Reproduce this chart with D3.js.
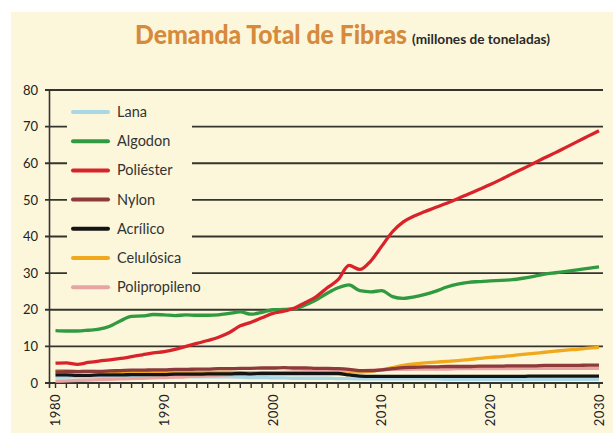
<!DOCTYPE html>
<html><head><meta charset="utf-8">
<script src="https://cdn.jsdelivr.net/npm/d3@7"></script>
<style>body{margin:0;background:#fff}svg{display:block}</style>
</head><body>
<svg id="c" width="613" height="434"></svg>
<script>
const years = d3.range(1980, 2031);
const seriesNames = ["Lana","Algodon","Poliéster","Nylon","Acrílico","Celulósica","Polipropileno"];
const seriesColors = ["#a9d7e6","#2f9a40","#d9232b","#8c3a3a","#141414","#f0a81c","#eaa3a3"];
const yTicks = [0,10,20,30,40,50,60,70,80];
const xLabels = [1980,1990,2000,2010,2020,2030];

const lana = [1.6,1.6,1.7,1.7,1.8,1.8,1.9,1.9,2.0,2.0,2.0,1.9,1.8,1.7,1.7,1.7,1.7,1.6,1.5,1.5,1.4,1.4,1.3,1.3,1.3,1.3,1.2,1.2,1.1,1.1,1.1,1.1,1.1,1.1,1.1,1.1,1.0,1.0,1.0,1.0,1.0,1.0,1.0,1.0,1.0,1.0,1.0,1.0,1.0,1.0,1.0];
const algodon = [14.3,14.2,14.2,14.4,14.7,15.5,17.0,18.2,18.3,18.7,18.6,18.4,18.6,18.5,18.5,18.6,19.0,19.4,18.8,19.3,20.0,20.1,20.3,21.3,22.7,24.5,26.0,26.8,25.2,24.9,25.2,23.6,23.1,23.5,24.2,25.1,26.2,27.0,27.5,27.7,27.9,28.0,28.2,28.6,29.1,29.7,30.1,30.5,30.9,31.3,31.7];
const poliester = [5.4,5.5,5.1,5.6,6.0,6.3,6.7,7.2,7.7,8.2,8.6,9.2,10.0,10.8,11.6,12.5,13.8,15.6,16.6,17.8,19.0,19.6,20.5,22.0,23.6,26.0,28.2,32.1,31.0,33.3,37.3,41.3,44.0,45.6,46.8,48.0,49.1,50.3,51.6,52.9,54.2,55.6,57.1,58.5,60.0,61.5,62.9,64.4,65.9,67.4,68.9];
const nylon = [3.0,3.1,3.1,3.2,3.2,3.3,3.4,3.5,3.5,3.6,3.6,3.7,3.7,3.8,3.8,3.9,3.9,4.0,4.0,4.1,4.1,4.2,4.1,4.1,4.0,4.0,3.9,3.7,3.4,3.4,3.6,3.9,4.2,4.3,4.4,4.4,4.5,4.5,4.5,4.6,4.6,4.6,4.7,4.7,4.7,4.8,4.8,4.8,4.8,4.9,4.9];
const acrilico = [2.2,2.2,2.1,2.1,2.2,2.2,2.2,2.3,2.3,2.3,2.3,2.4,2.4,2.4,2.5,2.5,2.5,2.6,2.5,2.6,2.6,2.6,2.6,2.6,2.6,2.6,2.6,2.2,1.9,1.8,1.8,1.8,1.8,1.8,1.8,1.8,1.8,1.8,1.8,1.8,1.8,1.8,1.8,1.8,1.9,1.9,1.9,1.9,1.9,1.9,1.9];
const celulosica = [3.4,3.4,3.2,3.2,3.1,3.1,3.1,3.1,3.0,3.0,3.0,3.0,3.0,2.9,2.9,2.9,2.9,2.8,2.8,2.8,2.8,2.8,2.8,2.9,2.9,2.9,3.0,3.0,3.0,3.2,3.6,4.2,4.8,5.2,5.5,5.7,5.9,6.1,6.4,6.7,7.0,7.2,7.5,7.8,8.1,8.4,8.7,9.0,9.2,9.5,9.7];
const polipropileno = [0.5,0.6,0.7,0.8,0.9,1.0,1.1,1.2,1.3,1.4,1.5,1.6,1.7,1.9,2.0,2.1,2.3,2.4,2.5,2.7,2.8,2.9,3.0,3.1,3.2,3.3,3.4,3.4,3.4,3.5,3.6,3.7,3.7,3.8,3.8,3.8,3.8,3.9,3.9,3.9,3.9,3.9,3.9,4.0,4.0,4.0,4.0,4.0,4.0,4.0,4.0];
const seriesValues = [lana, algodon, poliester, nylon, acrilico, celulosica, polipropileno];

const svg = d3.select("#c");
const font = "Lato, 'Open Sans', sans-serif";

svg.append("rect").attr("x",11).attr("y",12).attr("width",602).attr("height",421).attr("fill","#fcf7da");

const x = d3.scaleLinear().domain([1980,2030]).range([55.5,599]);
const y = d3.scaleLinear().domain([0,80]).range([383,90]);

// title
svg.append("text").attr("x",135).attr("y",44).attr("font-family",font)
  .attr("font-size",26).attr("font-weight","900").attr("fill","#d68a3c")
  .attr("textLength",272).attr("lengthAdjust","spacingAndGlyphs").text("Demanda Total de Fibras");
svg.append("text").attr("x",412).attr("y",44).attr("font-family",font)
  .attr("font-size",13).attr("font-weight","bold").attr("fill","#2a2a2a")
  .attr("textLength",138).attr("lengthAdjust","spacingAndGlyphs").text("(millones de toneladas)");

// gridlines
svg.append("g").selectAll("line").data(yTicks).join("line")
  .attr("x1",45).attr("x2",603).attr("y1",d=>y(d)).attr("y2",d=>y(d))
  .attr("stroke","#34342f").attr("stroke-width",1.8);

// y axis line
svg.append("line").attr("x1",49.5).attr("x2",49.5).attr("y1",y(80)).attr("y2",y(0)+5)
  .attr("stroke","#34342f").attr("stroke-width",1.6);

// y labels
svg.append("g").selectAll("text").data(yTicks).join("text")
  .attr("x",38).attr("y",d=>y(d)).attr("dy","0.36em").attr("text-anchor","end")
  .attr("font-family",font).attr("font-size",13).attr("fill","#222").text(d=>d);

// x minor ticks
svg.append("g").selectAll("line").data(years).join("line")
  .attr("x1",d=>x(d)).attr("x2",d=>x(d)).attr("y1",y(0)).attr("y2",y(0)+5)
  .attr("stroke","#34342f").attr("stroke-width",1.4);

// x labels rotated
svg.append("g").selectAll("text").data(xLabels).join("text")
  .attr("transform",d=>`translate(${x(d)},394) rotate(-90)`)
  .attr("dy","0.36em").attr("text-anchor","end").attr("letter-spacing","0.5")
  .attr("font-family",font).attr("font-size",13).attr("fill","#222").text(d=>d);

// legend box covering gridlines
svg.append("rect").attr("x",67).attr("y",96).attr("width",125).attr("height",204).attr("fill","#fcf7da");

// lines (draw order)
const line = d3.line().x((d,i)=>x(years[i])).y(d=>y(d)).curve(d3.curveMonotoneX);
const order = [0,5,6,4,3,1,2];
svg.append("g").selectAll("path").data(order).join("path")
  .attr("d",k=>line(seriesValues[k])).attr("fill","none")
  .attr("stroke",k=>seriesColors[k]).attr("stroke-width",3.3).attr("stroke-linejoin","round");

// legend
const lg = svg.append("g").selectAll("g").data(seriesNames).join("g")
  .attr("transform",(d,i)=>`translate(0,${112+i*29.2})`);
lg.append("line").attr("x1",73).attr("x2",108).attr("stroke",(d,i)=>seriesColors[i]).attr("stroke-width",4).attr("stroke-linecap","round");
lg.append("text").attr("x",117).attr("dy","0.35em").attr("font-family",font).attr("font-size",14.5)
  .attr("fill","#333").text(d=>d);
</script>
</body></html>
